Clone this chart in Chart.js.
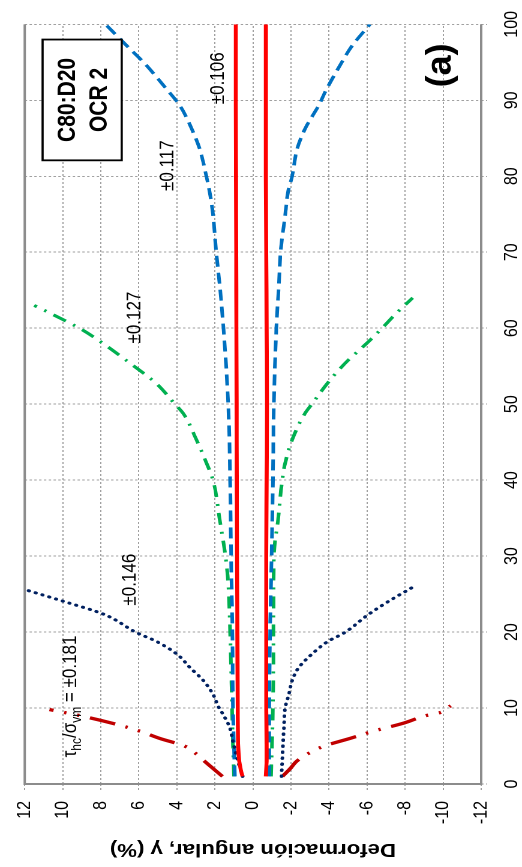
<!DOCTYPE html>
<html><head><meta charset="utf-8">
<script src="https://cdn.jsdelivr.net/npm/chart.js@4"></script>
<style>
html,body{margin:0;padding:0;background:#fff;}
#wrap{position:relative;width:522px;height:867px;overflow:hidden;background:#fff;}
#c{position:absolute;left:0;top:0;transform-origin:0 0;transform:translate(0,867px) rotate(-90deg) scale(1,1.2);}
</style></head><body>
<div id="wrap"><canvas id="c" width="867" height="435" style="width:867px;height:435px"></canvas></div>
<script>
// ---- data (cycles N, angular strain gamma %) ----
const xTicks = [0,10,20,30,40,50,60,70,80,90,100];
const yTicks = [12,10,8,6,4,2,0,-2,-4,-6,-8,-10,-12];

// tau/sigma = ±0.106 (red solid)
const n106p = [1, 2, 3, 5, 10, 20, 30, 40, 50, 60, 70, 80, 90, 100];
const g106p = [0.55, 0.65, 0.72, 0.78, 0.8, 0.82, 0.84, 0.85, 0.86, 0.87, 0.88, 0.89, 0.9, 0.9];
const n106n = [1, 2, 3, 5, 10, 20, 30, 40, 50, 60, 70, 80, 90, 100];
const g106n = [-0.68, -0.7, -0.72, -0.72, -0.7, -0.7, -0.7, -0.72, -0.74, -0.72, -0.7, -0.68, -0.68, -0.68];

// ±0.117 (blue dashed)
const n117p = [1, 5, 10, 20, 30, 40, 50, 60, 66, 70, 75, 78, 80, 83.6, 86.3, 89.3, 91.5, 95, 97.1, 100];
const g117p = [0.95, 1.0, 1.05, 1.08, 1.15, 1.2, 1.3, 1.55, 1.76, 1.93, 2.1, 2.28, 2.45, 2.8, 3.23, 3.84, 4.55, 5.75, 6.6, 7.75];
const n117n = [1, 5, 10, 20, 30, 40, 50, 60, 66, 70, 75, 78, 80, 83.6, 86.3, 89.3, 91.5, 95, 97.1, 100];
const g117n = [-0.86, -0.86, -0.86, -0.9, -0.98, -1.05, -1.1, -1.23, -1.37, -1.45, -1.7, -1.85, -2.06, -2.32, -2.75, -3.45, -3.88, -4.67, -5.19, -6.15];

// ±0.127 (green dash-dot)
const n127p = [1, 5, 10, 20, 28, 35, 40, 42.3, 45.3, 48.8, 50, 52.7, 55.35, 58.2, 59.9, 61.7, 63];
const g127p = [1.0, 1.05, 1.1, 1.2, 1.35, 1.76, 2.1, 2.45, 2.97, 3.67, 4.1, 5.07, 6.44, 8.0, 9.05, 10.44, 11.5];
const n127n = [1, 5, 10, 20, 30, 35, 40, 42.3, 45.3, 48.8, 50, 52.7, 55.35, 58.2, 59.9, 61.7, 64];
const g127n = [-0.95, -1.0, -1.05, -1.08, -1.1, -1.33, -1.54, -1.7, -2.06, -2.74, -3.1, -3.9, -4.83, -6.06, -6.75, -7.43, -8.4];

// ±0.146 (navy dotted)
const n146p = [1, 3.1, 5.7, 7.5, 9.2, 10.1, 11.8, 13.6, 15.3, 17.1, 18.8, 19.9, 22.3, 24, 25.6];
const g146p = [0.54, 0.8, 1.06, 1.23, 1.58, 1.8, 2.1, 2.6, 3.3, 4.0, 5.1, 6.1, 7.8, 9.9, 12];
const n146n = [1, 3.1, 7.5, 10.1, 11.8, 13.6, 15.3, 17.1, 18.8, 19.9, 22.3, 24, 25.9];
const g146n = [-1.5, -1.54, -1.63, -1.7, -1.89, -2.06, -2.4, -3.1, -3.96, -4.8, -6.06, -7.1, -8.4];

// ±0.181 (dark red dash-dot-dot)
const n181p = [1, 3, 4, 5, 6, 7, 8, 9, 9.8];
const g181p = [1.6, 2.55, 3.0, 3.6, 4.9, 6.0, 7.4, 9.1, 10.7];
const n181n = [1, 2, 3, 4, 5, 6, 7, 8, 9, 9.4, 10.3];
const g181n = [-1.55, -1.95, -2.3, -2.9, -3.75, -5.1, -6.4, -7.9, -9.1, -9.84, -10.4];

// annotation texts with (cycle, gamma) anchors
const labels = [
  {t:'±0.146', n:26.9, g:6.17},
  {t:'±0.127', n:61.4, g:5.91},
  {t:'±0.117', n:81.4, g:4.19},
  {t:'±0.106', n:92.9, g:1.53}
];
const ratioLabel = {n:3.5, g:9.29, parts:[['τ',0],['hc',1],['/σ',0],['vm',1],[' = ±0.181',0]]};
const boxLines = ['C80:D20','OCR 2'];
const panelLabel = '(a)';
const yTitle = 'Deformación angular, γ (%)';

const FONT = '"Liberation Sans", Arial, Helvetica, sans-serif';
const STRETCH = 1.2;
const pts = (xs, ys) => xs.map((v,i)=>({x:v, y:ys[i]}));

function ds(xs, ys, color, width, dash, cap){
  return {data: pts(xs, ys), borderColor: color, borderWidth: width, borderDash: dash,
    borderCapStyle: cap || 'butt', pointRadius: 0, fill: false, tension: 0.3,
    cubicInterpolationMode: 'monotone'};
}

const RED='#FF0000', BLUE='#0070C0', GREEN='#00B050', NAVY='#002060', DRED='#C00000';
const datasets = [
  ds(n106p, g106p, RED, 3.3, []),
  ds(n106n, g106n, RED, 3.3, []),
  ds(n146p, g146p, NAVY, 3, [0.5, 5.5], 'round'),
  ds(n146n, g146n, NAVY, 3, [0.5, 5.5], 'round'),
  ds(n117p, g117p, BLUE, 3, [11, 6]),
  ds(n117n, g117n, BLUE, 3, [11, 6]),
  ds(n127p, g127p, GREEN, 3, [12, 7, 2, 7]),
  ds(n127n, g127n, GREEN, 3, [12, 7, 2, 7]),
  ds(n181p, g181p, DRED, 3.3, [22, 9, 2, 9, 2, 9]),
  ds(n181n, g181n, DRED, 3.3, [22, 9, 2, 9, 2, 9])
];

const decor = {
  id: 'decor',
  afterDatasetsDraw(chart){
    const {ctx, chartArea: a, scales: {x, y}} = chart;
    ctx.save();
    // plot border (solid on three sides)
    ctx.strokeStyle = '#8C8C8C'; ctx.lineWidth = 2; ctx.setLineDash([]);
    ctx.beginPath();
    ctx.moveTo(a.right, a.top); ctx.lineTo(a.left, a.top);
    ctx.lineTo(a.left, a.bottom); ctx.lineTo(a.right, a.bottom);
    ctx.stroke();

    ctx.fillStyle = '#000';
    ctx.font = '17px ' + FONT;
    ctx.textAlign = 'center'; ctx.textBaseline = 'alphabetic';
    labels.forEach(l => ctx.fillText(l.t, x.getPixelForValue(l.n), y.getPixelForValue(l.g)));

    // tau_hc / sigma_vm label
    let px = x.getPixelForValue(ratioLabel.n);
    const py = y.getPixelForValue(ratioLabel.g);
    ctx.textAlign = 'left';
    ratioLabel.parts.forEach(([s, sub]) => {
      ctx.font = (sub ? '12px ' : '17px ') + FONT;
      ctx.fillText(s, px, py + (sub ? 4 : 0));
      px += ctx.measureText(s).width;
    });

    // box
    const bx1 = x.getPixelForValue(82.1), bx2 = x.getPixelForValue(98.0);
    const by1 = y.getPixelForValue(11.06), by2 = y.getPixelForValue(6.9);
    ctx.fillStyle = '#fff';
    ctx.fillRect(bx1, by1, bx2 - bx1, by2 - by1);
    ctx.strokeStyle = '#000'; ctx.lineWidth = 1.8;
    ctx.strokeRect(bx1, by1, bx2 - bx1, by2 - by1);
    ctx.fillStyle = '#000';
    ctx.font = 'bold 21px ' + FONT;
    ctx.textAlign = 'center'; ctx.textBaseline = 'middle';
    const cx = (bx1 + bx2) / 2;
    ctx.fillText(boxLines[0], cx, y.getPixelForValue(9.71));
    ctx.fillText(boxLines[1], cx, y.getPixelForValue(8.04));

    // panel label (undo the vertical stretch for this one)
    ctx.translate(x.getPixelForValue(94.6), y.getPixelForValue(-10.4));
    ctx.scale(1, 1 / STRETCH);
    ctx.font = 'bold 36px ' + FONT;
    ctx.textBaseline = 'alphabetic';
    ctx.fillText(panelLabel, 0, 0);
    ctx.restore();
  }
};

new Chart(document.getElementById('c'), {
  type: 'line',
  data: {datasets},
  options: {
    responsive: false, animation: false, devicePixelRatio: 2,
    layout: {padding: {top: 17, right: 18, left: 0, bottom: 0}},
    plugins: {legend: {display: false}, tooltip: {enabled: false}},
    scales: {
      x: {
        type: 'linear', min: 0, max: 100,
        afterBuildTicks: s => { s.ticks = xTicks.map(v => ({value: v})); },
        ticks: {color: '#000', font: {family: FONT, size: 16}, padding: 11, maxRotation: 0, autoSkip: false},
        grid: {color: '#A0A0A0', lineWidth: 1, tickLength: 5, tickColor: '#A0A0A0', tickBorderDash: [2, 2]},
        border: {display: false, dash: [2, 2]},
        afterFit: s => { s.height = 34; }
      },
      y: {
        type: 'linear', min: -12, max: 12,
        afterBuildTicks: s => { s.ticks = yTicks.map(v => ({value: v})); },
        ticks: {color: '#000', font: {family: FONT, size: 16}, padding: 11, autoSkip: false},
        grid: {color: '#A0A0A0', lineWidth: 1, tickLength: 6, tickColor: '#A0A0A0', tickBorderDash: [2, 2]},
        border: {display: false, dash: [2, 2]},
        title: {display: true, text: yTitle, color: '#000', font: {family: FONT, size: 18.5, weight: 'bold'}, padding: {top: 7, bottom: 0}},
        afterFit: s => { s.width = 83; }
      }
    }
  },
  plugins: [decor]
});
</script>
</body></html>
